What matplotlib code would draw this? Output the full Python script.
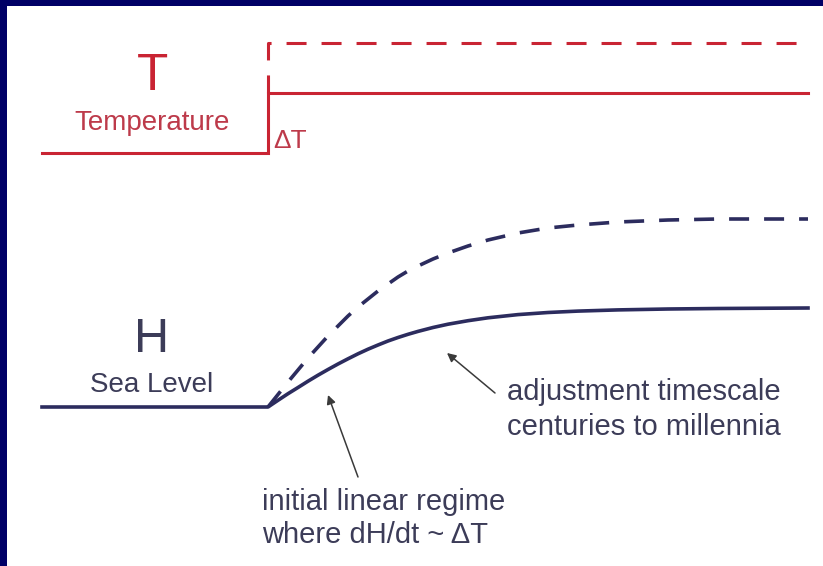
import matplotlib.pyplot as plt
from matplotlib.patches import Rectangle

plt.rcParams['font.family'] = ['Liberation Sans', 'DejaVu Sans']
plt.rcParams['lines.scale_dashes'] = False

# temperature step (time units, step at t = 0)
t_temp = [-4.52, 0, 0, 10.8]
temp_solid = [0, 0, 1.0, 1.0]
t_temp_dash = [0, 0, 10.8]
temp_dash = [1.0, 1.83, 1.83]

# sea level response
t_sea = [-4.52, 0, 0.2, 0.4, 0.6, 0.8, 1.0, 1.2, 1.4, 1.6, 1.8, 2.0, 2.2, 2.4, 2.6, 2.8,
         3.0, 3.3, 3.6, 4.0, 4.4, 5.0, 5.6, 6.2, 7.0, 8.0, 9.0, 10.8]
sea_solid = [0, 0, 0.067, 0.133, 0.195, 0.258, 0.318, 0.375, 0.43, 0.482, 0.532, 0.578,
             0.62, 0.66, 0.695, 0.727, 0.756, 0.795, 0.828, 0.863, 0.892, 0.924, 0.945,
             0.959, 0.971, 0.98, 0.985, 0.99]
t_sea_dash = t_sea[1:]
sea_dash = [0, 0.125, 0.25, 0.37, 0.49, 0.60, 0.71, 0.81, 0.91, 1.00, 1.08, 1.16, 1.23,
            1.30, 1.36, 1.41, 1.48, 1.54, 1.61, 1.67, 1.74, 1.79, 1.82, 1.85, 1.87, 1.88, 1.88]

red = '#c92433'
navy = '#2c2c5e'
txt = '#3c3c58'
arrow_c = '#3a3a3a'

fig = plt.figure(figsize=(8.23, 5.66), dpi=100, facecolor='white')
# navy frame on the left and top
for xy, w, h in [((0, 0), 7 / 823, 1), ((0, 1 - 6 / 566), 1, 6 / 566)]:
    fig.patches.append(Rectangle(xy, w, h, transform=fig.transFigure,
                                 facecolor='#000066', edgecolor='none', zorder=-10))

# lower axes: sea level
ax = fig.add_axes([0, 0, 1, 1])
ax.patch.set_alpha(0)
ax.set_xlim(-5.36, 11.1)
ax.set_ylim(-1.59, 4.07)
ax.axis('off')

# upper axes: temperature, same time axis
axt = fig.add_axes([0, 0, 1, 1], sharex=ax)
axt.patch.set_alpha(0)
axt.set_ylim(-6.883, 2.55)
axt.axis('off')

axt.plot(t_temp, temp_solid, color=red, lw=2.2, solid_joinstyle='miter')
axt.plot(t_temp_dash, temp_dash, color=red, lw=2.2, linestyle=(1.4, (14.4, 10.8)))
axt.text(-2.32, 1.05, 'T', color=red, fontsize=37, ha='center', va='baseline')
axt.text(-2.32, 0.383, 'Temperature', color='#bd3a4a', fontsize=20, ha='center', va='baseline')
axt.text(0.1, 0.083, 'ΔT', color='#bd3a4a', fontsize=19, ha='left', va='baseline')

ax.plot(t_sea, sea_solid, color=navy, lw=2.6)
ax.plot(t_sea_dash, sea_dash, color=navy, lw=2.6, linestyle=(0, (14.4, 10.8)))
ax.text(-2.32, 0.55, 'H', color=txt, fontsize=35, ha='center', va='baseline')
ax.text(-2.32, 0.15, 'Sea Level', color=txt, fontsize=20, ha='center', va='baseline')

ax.text(4.78, 0.07, 'adjustment timescale', color=txt, fontsize=21, ha='left', va='baseline')
ax.text(4.78, -0.28, 'centuries to millennia', color=txt, fontsize=21, ha='left', va='baseline')
ax.text(-0.12, -1.03, 'initial linear regime', color=txt, fontsize=21, ha='left', va='baseline')
ax.text(-0.12, -1.36, 'where dH/dt ~ ΔT', color=txt, fontsize=21, ha='left', va='baseline')

arrow = dict(arrowstyle='-|>', color=arrow_c, lw=1.1, mutation_scale=13, shrinkA=0, shrinkB=0)
ax.annotate('', xy=(1.2, 0.12), xytext=(1.8, -0.70), arrowprops=arrow)
ax.annotate('', xy=(3.58, 0.54), xytext=(4.54, 0.14), arrowprops=arrow)

fig.savefig('out.png', dpi=100, facecolor='white')
